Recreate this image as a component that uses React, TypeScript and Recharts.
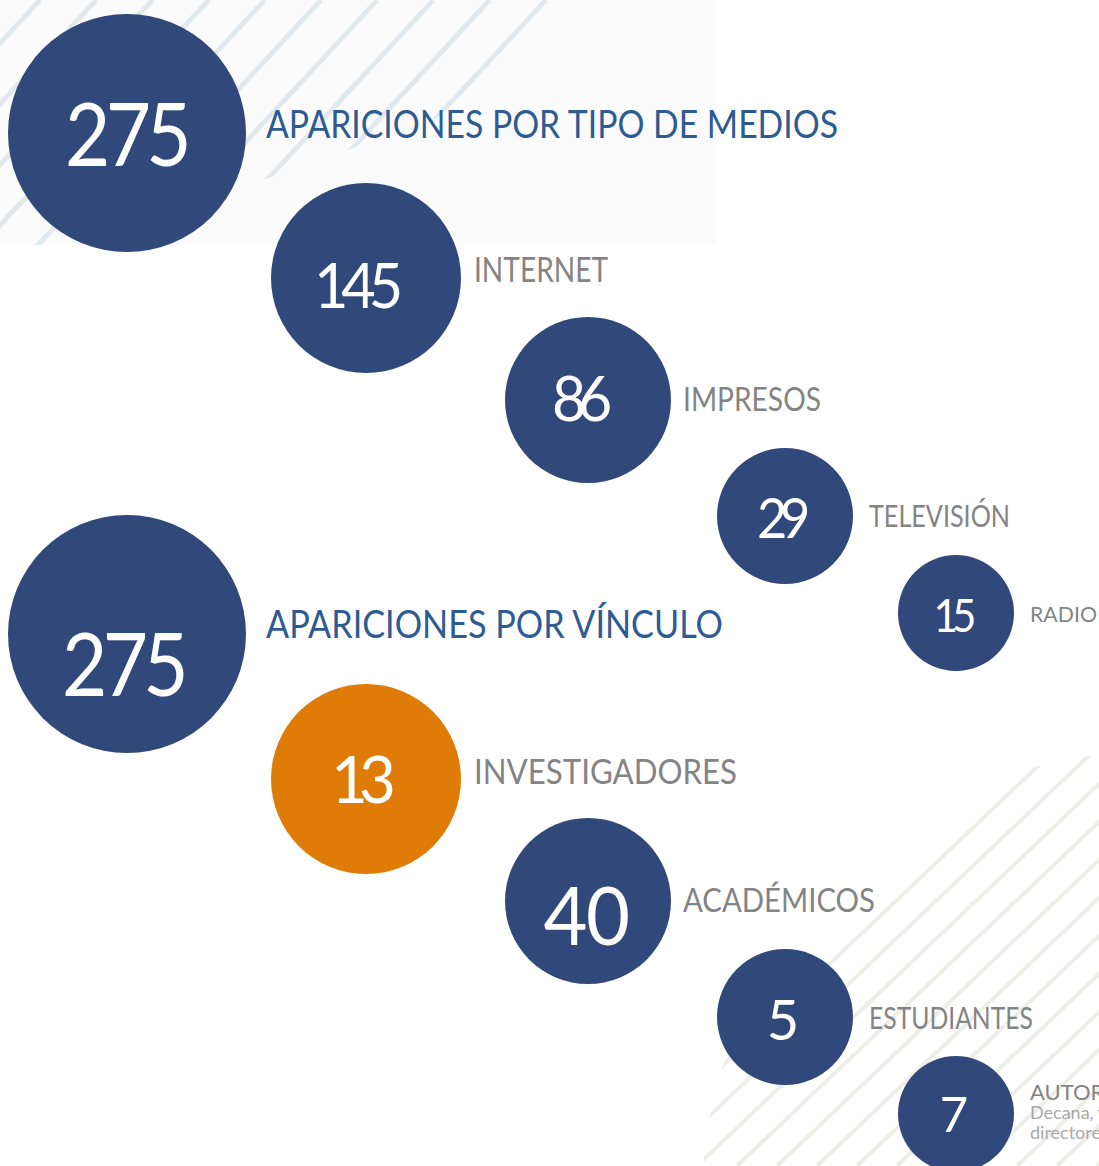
import React from 'react';
import { ScatterChart, Scatter, XAxis, YAxis } from 'recharts';

// ---------- data ----------
const groupTitles = ['APARICIONES POR TIPO DE MEDIOS', 'APARICIONES POR VÍNCULO'];
const groupTotals = [275, 275];
const mediaLabels = ['INTERNET', 'IMPRESOS', 'TELEVISIÓN', 'RADIO'];
const mediaValues = [145, 86, 29, 15];
const linkLabels = ['INVESTIGADORES', 'ACADÉMICOS', 'ESTUDIANTES', 'AUTORIDADES'];
const linkValues = [13, 40, 5, 7];
const linkNotes = ['', '', '', 'Decana, vicedecanos,|directores de unidades'];
const highlighted = ['INVESTIGADORES'];

// ---------- layout / style ----------
const W = 1099;
const H = 1166;
const slotX = [127, 366, 588, 785, 956];
const slotY = [133, 278, 400, 516, 613];
const groupShift = 501;
const slotR = [119, 95, 83, 68, 58];

const numSize = [[88, 62, 62, 57, 47], [88, 66, 82, 56, 49]];
const numWidth = [[122, 82, 52, 46, 37], [122, 56, 85, 0, 0]];
const numSpacing = [[-0.06, -0.12, -0.14, -0.14, -0.14], [-0.06, -0.14, -0.02, 0, 0]];
const numDx = [[-1, -11, -10, -5, -4], [-4, -7, -2, -2, -2]];
const numDy = [[33, 30, 21, 22, 19], [62, 24, 44, 23, 18]];

const labelSize = [38, 34, 32, 30, 22];
const labelWidth = [[572, 134, 138, 141, 67], [457, 263, 192, 164, 0]];
const labelGap = [20, 13, 12, 16, 16];
const labelDy = [[5, 4, 11, 11, 9], [4, 5, 11, 12, -14]];

const BLUE = '#31487a';
const ORANGE = '#df7b07';
const TITLE = '#2e5b91';
const GREY = '#848484';
const NOTE = '#a9a9a9';

type Pt = {
  x: number; y: number; value: number; label: string; note: string;
  group: number; rank: number;
};

const points: Pt[] = [];
[
  { total: groupTotals[0], title: groupTitles[0], labels: mediaLabels, values: mediaValues, notes: ['', '', '', ''] },
  { total: groupTotals[1], title: groupTitles[1], labels: linkLabels, values: linkValues, notes: linkNotes },
].forEach((g, gi) => {
  points.push({ x: slotX[0], y: slotY[0] + gi * groupShift, value: g.total, label: g.title, note: '', group: gi, rank: 0 });
  g.values.forEach((v, i) => {
    points.push({ x: slotX[i + 1], y: slotY[i + 1] + gi * groupShift, value: v, label: g.labels[i], note: g.notes[i], group: gi, rank: i + 1 });
  });
});

const FONT = "Lato, 'Open Sans', sans-serif";

const Bubble = (props: any) => {
  const { cx, cy, payload } = props;
  const p: Pt = payload;
  const g = p.group;
  const k = p.rank;
  const r = slotR[k];
  const fill = highlighted.includes(p.label) ? ORANGE : BLUE;
  const lw = labelWidth[g][k];
  const nw = numWidth[g][k];
  const lx = cx + r + labelGap[k];
  const ly = cy + labelDy[g][k];
  const noteLines = p.note ? p.note.split('|') : [];
  return (
    <g>
      <circle cx={cx} cy={cy} r={r} fill={fill} />
      <text
        x={cx + numDx[g][k]}
        y={cy + numDy[g][k]}
        textAnchor="middle"
        fill="#ffffff"
        fontFamily={FONT}
        fontSize={numSize[g][k]}
        style={{ letterSpacing: `${numSpacing[g][k]}em` }}
        {...(nw ? { textLength: nw, lengthAdjust: 'spacingAndGlyphs' } : {})}
      >
        {p.value}
      </text>
      <text
        x={lx}
        y={ly}
        fill={k === 0 ? TITLE : GREY}
        fontFamily={FONT}
        fontSize={labelSize[k]}
        {...(lw ? { textLength: lw, lengthAdjust: 'spacingAndGlyphs' } : {})}
      >
        {p.label}
      </text>
      {noteLines.map((line, i) => (
        <text
          key={i}
          x={lx}
          y={ly + 19 + i * 20}
          fill={NOTE}
          fontFamily={FONT}
          fontSize={18}
        >
          {line}
        </text>
      ))}
    </g>
  );
};

const Background = () => {
  const topLines: number[] = [];
  for (let k = -8; k < 12; k++) topLines.push(40 + 56.2 * k);
  const botLines: number[] = [];
  for (let k = -2; k < 24; k++) botLines.push(697 + 40 * k);
  return (
    <svg width={W} height={H} style={{ position: 'absolute', left: 0, top: 0 }}>
      <defs>
        <clipPath id="tlClip">
          <polygon points="0,0 575,0 437,118 213,198 120,245 0,245" />
        </clipPath>
        <clipPath id="brClip">
          <circle cx={1150} cy={1200} r={448} />
        </clipPath>
      </defs>
      <rect x={0} y={0} width={716} height={245} fill="#fbfbfc" />
      <g clipPath="url(#tlClip)">
        {topLines.map((x, i) => (
          <line key={i} x1={x} y1={0} x2={x - 300 / 1.08} y2={300} stroke="#e2e9ed" strokeWidth={5} />
        ))}
      </g>
      <g clipPath="url(#brClip)">
        {botLines.map((x, i) => (
          <line key={i} x1={x} y1={H} x2={x + 600} y2={H - 600 * 0.95} stroke="#eeeee9" strokeWidth={4} />
        ))}
      </g>
    </svg>
  );
};

export default function App() {
  return (
    <div style={{ position: 'absolute', left: 0, top: 0, width: W, height: H, background: '#ffffff', overflow: 'hidden' }}>
      <Background />
      <div style={{ position: 'absolute', left: 0, top: 0 }}>
        <ScatterChart width={W} height={H} margin={{ top: 0, right: 0, bottom: 0, left: 0 }}>
          <XAxis type="number" dataKey="x" domain={[0, W]} hide />
          <YAxis type="number" dataKey="y" domain={[0, H]} reversed hide />
          <Scatter data={points} shape={Bubble} isAnimationActive={false} />
        </ScatterChart>
      </div>
    </div>
  );
}
